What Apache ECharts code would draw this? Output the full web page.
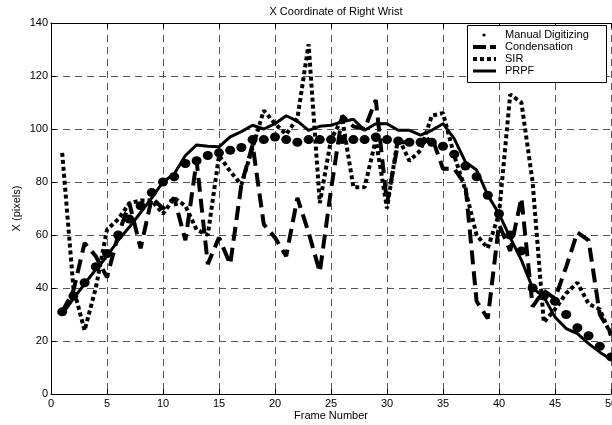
<!DOCTYPE html>
<html>
<head>
<meta charset="utf-8">
<script src="https://cdn.jsdelivr.net/npm/echarts@6/dist/echarts.min.js"></script>
<style>
html,body{margin:0;padding:0;background:#fff;}
#chart{width:612px;height:425px;}
</style>
</head>
<body>
<div id="chart"></div>
<script>
var frames = [1,2,3,4,5,6,7,8,9,10,11,12,13,14,15,16,17,18,19,20,21,22,23,24,25,26,27,28,29,30,31,32,33,34,35,36,37,38,39,40,41,42,43,44,45,46,47,48,49,50];
var manualDigitizing = [31,37,42,48,53,60,66,71,76,80,82,87,88,90,91,92,93,96,96,97,96,95,96,96,96,96,96,96,97,96,95.5,95,95,95,93.5,90.5,86,82,75,68,60,54,40,37,35,30,25,22,18,14];
var condensation = [31,39,57,52,44,60,72,55,74,70,74,58,88,49,59,49,79,94,64,59,52,74,61,46,77,105,101,100,111,72,95,95,94,97,85,85,79,35,28.5,64,54,74,33,39,36,48,61,58,30,23];
var sir = [91,40,24,40,62,66,72,73,73,68,74,71,62,60,90,84,79,93,107,102,98,104,132,72,96,104,78,78,96,70,97,88,92,105,106,90,77,60,55,68,113,110,80,27,32,38,42,34,32,22];
var prpf = [30,36,41.5,47,52,58,63,68.5,74,80,83,90,94,93.5,93.3,97,99,101.4,100,102,105,103,99.5,101,101.4,102.7,103.7,99.5,102,102,99.5,99.5,97.7,99.5,102,96.4,87.6,84.5,75,68,59,50.5,40,36.7,29,24.7,22.8,19,15.8,13];
var xTicks = {min:0, max:50, interval:5};
var yTicks = {min:0, max:140, interval:20};
var legendNames = ['Manual Digitizing','Condensation','SIR','PRPF'];

function pairs(arr){ return frames.map(function(f,i){ return [f, arr[i]]; }); }

var chart = echarts.init(document.getElementById('chart'), null, {renderer:'canvas'});
var FONT = 'Liberation Sans, Arial, sans-serif';
var gridLine = {show:true, lineStyle:{color:'#555', type:[7,5], width:1}};

var lx = 473, lx2 = 496, ly = [35, 47, 59, 71];
var legendGraphics = [
  {type:'rect', shape:{x:467.5,y:25.5,width:139,height:57}, style:{fill:'#fff', stroke:'#000', lineWidth:1}, z:100},
  {type:'circle', shape:{cx:484, cy:ly[0], r:1.6}, style:{fill:'#000'}, z:101},
  {type:'line', shape:{x1:lx,y1:ly[1],x2:lx2,y2:ly[1]}, style:{stroke:'#000', lineWidth:4, lineDash:[13,4]}, z:101},
  {type:'line', shape:{x1:lx,y1:ly[2],x2:lx2,y2:ly[2]}, style:{stroke:'#000', lineWidth:4, lineDash:[4,3]}, z:101},
  {type:'line', shape:{x1:lx,y1:ly[3],x2:lx2,y2:ly[3]}, style:{stroke:'#000', lineWidth:3}, z:101}
];
legendNames.forEach(function(n,i){
  legendGraphics.push({type:'text', x:505, y:ly[i], style:{text:n, font:'11px '+FONT, fill:'#000', textVerticalAlign:'middle'}, z:101});
});

var option = {
  backgroundColor:'#fff',
  animation:false,
  title:{text:'X Coordinate of Right Wrist', left:331, textAlign:'center', top:1,
    textStyle:{fontFamily:FONT, fontSize:11, fontWeight:'normal', color:'#000'}},
  grid:{left:51, top:23, width:560, height:371, containLabel:false, outerBoundsMode:'none'},
  xAxis:[{
    type:'value', min:xTicks.min, max:xTicks.max, interval:xTicks.interval,
    name:'Frame Number', nameLocation:'middle', nameGap:16, nameMoveOverlap:false,
    nameTextStyle:{fontFamily:FONT, fontSize:11, color:'#000'},
    axisLine:{lineStyle:{color:'#000', width:1}},
    axisTick:{inside:true, length:5, lineStyle:{color:'#000'}},
    axisLabel:{fontFamily:FONT, fontSize:11, color:'#000', margin:4, hideOverlap:false},
    splitLine:gridLine
  },{
    type:'value', position:'top', min:xTicks.min, max:xTicks.max, interval:xTicks.interval,
    axisLine:{lineStyle:{color:'#000', width:1}},
    axisTick:{inside:true, length:5, lineStyle:{color:'#000'}},
    axisLabel:{show:false}, splitLine:{show:false}
  }],
  yAxis:[{
    type:'value', min:yTicks.min, max:yTicks.max, interval:yTicks.interval,
    name:'X (pixels)', nameLocation:'middle', nameGap:29, nameMoveOverlap:false,
    nameTextStyle:{fontFamily:FONT, fontSize:11, color:'#000'},
    axisLine:{show:true, lineStyle:{color:'#000', width:1}},
    axisTick:{show:true, inside:true, length:5, lineStyle:{color:'#000'}},
    axisLabel:{fontFamily:FONT, fontSize:11, color:'#000', margin:3},
    splitLine:gridLine
  }],
  series:[
    {name:legendNames[0], type:'line', data:pairs(manualDigitizing), lineStyle:{width:0, opacity:0},
      symbol:'circle', symbolSize:[10,9], itemStyle:{color:'#000'}, showSymbol:true, z:2},
    {name:legendNames[1], type:'line', data:pairs(condensation), symbol:'none',
      lineStyle:{color:'#000', width:4, type:[14,7]}, z:3},
    {name:legendNames[2], type:'line', data:pairs(sir), symbol:'none',
      lineStyle:{color:'#000', width:4, type:[4,3]}, z:4},
    {name:legendNames[3], type:'line', data:pairs(prpf), symbol:'none',
      lineStyle:{color:'#000', width:3}, z:5}
  ],
  graphic:legendGraphics
};
chart.setOption(option);
</script>
</body>
</html>
